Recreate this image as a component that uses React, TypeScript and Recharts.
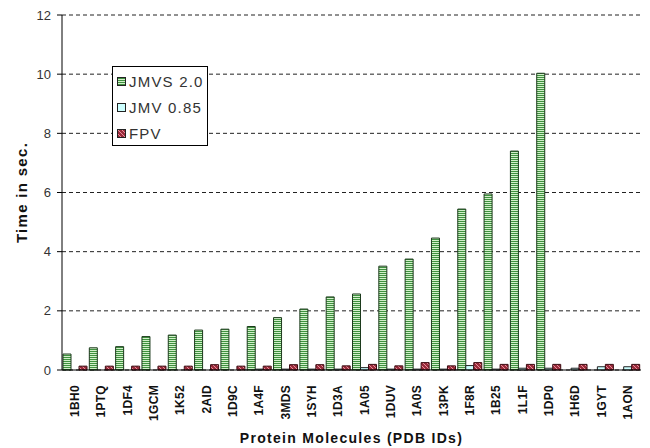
import React from "react";
import { Bar, BarChart, CartesianGrid, XAxis, YAxis } from "recharts";

const proteins = [
  "1BH0", "1PTQ", "1DF4", "1GCM", "1K52", "2AID", "1D9C", "1A4F", "3MDS", "1SYH", "1D3A",
  "1A05", "1DUV", "1A0S", "13PK", "1F8R", "1B25", "1L1F", "1DP0", "1H6D", "1GYT", "1AON",
];
const jmvs = [
  0.54, 0.75, 0.79, 1.13, 1.18, 1.35, 1.38, 1.47, 1.77, 2.06, 2.47,
  2.57, 3.51, 3.75, 4.46, 5.44, 5.95, 7.4, 10.03, 0, 0, 0,
];
const jmv = [
  0, 0, 0, 0, 0, 0, 0, 0.03, 0.03, 0.03, 0.03,
  0.08, 0.03, 0.03, 0.03, 0.15, 0.03, 0.06, 0.06, 0.06, 0.11, 0.11,
];
const fpv = [
  0.13, 0.13, 0.13, 0.13, 0.13, 0.18, 0.13, 0.13, 0.18, 0.18, 0.14,
  0.19, 0.14, 0.25, 0.14, 0.25, 0.19, 0.19, 0.19, 0.19, 0.19, 0.19,
];
const yTicks = [0, 2, 4, 6, 8, 10, 12];

const data = proteins.map((p, i) => ({ name: p, jmvs: jmvs[i], jmv: jmv[i], fpv: fpv[i] }));

const font = "Arial, 'Liberation Sans', sans-serif";

function ProteinTick({ x, y, payload }: any) {
  return (
    <text
      x={x + 4}
      y={y + 7}
      transform={`rotate(-90 ${x + 4} ${y + 7})`}
      textAnchor="end"
      fontSize={12}
      fontWeight="bold"
      fontFamily={font}
      letterSpacing={0.3}
      fill="#111"
    >
      {payload.value}
    </text>
  );
}

function LegendItem({ fill, label }: { fill: string; label: string }) {
  return (
    <div style={{ display: "flex", alignItems: "center", height: 26 }}>
      <svg width={9} height={9} style={{ marginRight: 3 }}>
        <rect x={0.5} y={0.5} width={8} height={8} fill={fill} stroke="#222" />
      </svg>
      <span>{label}</span>
    </div>
  );
}

export default function App() {
  return (
    <div style={{ position: "absolute", left: 0, top: 0, width: 650, height: 448, background: "#fff" }}>
      <BarChart
        width={650}
        height={448}
        data={data}
        margin={{ top: 15, right: 9, left: 0, bottom: 0 }}
        barGap={0}
        barSize={8}
      >
        <defs>
          <pattern id="gStripe" width="4" height="2" patternUnits="userSpaceOnUse">
            <rect width="4" height="2" fill="#d2f0ca" />
            <rect y="1" width="4" height="1" fill="#3f923f" />
          </pattern>
          <pattern id="rDiag" width="4" height="4" patternUnits="userSpaceOnUse">
            <rect width="4" height="4" fill="#9a2a3a" />
            <path d="M0,0 L4,4" stroke="#e8909c" strokeWidth="1" />
          </pattern>
        </defs>
        <CartesianGrid vertical={false} stroke="#222" strokeDasharray="4 3" />
        <XAxis
          dataKey="name"
          height={78}
          interval={0}
          tickLine={false}
          axisLine={{ stroke: "#000" }}
          tick={<ProteinTick />}
          label={{
            value: "Protein Molecules (PDB IDs)",
            position: "insideBottom",
            offset: 5,
            fontSize: 14,
            fontWeight: "bold",
            fontFamily: font,
            letterSpacing: 1.3,
            fill: "#111",
          }}
        />
        <XAxis xAxisId="top" dataKey="name" orientation="top" height={0} tick={false} tickLine={false} axisLine={{ stroke: "#000" }} />
        <YAxis
          width={62}
          domain={[0, 12]}
          ticks={yTicks}
          tickSize={5}
          tickMargin={6}
          tickLine={{ stroke: "#000" }}
          axisLine={{ stroke: "#000" }}
          tick={{ fontSize: 13, fontFamily: font, fill: "#333" }}
          label={({ viewBox }: any) => {
            const cx = 21;
            const cy = viewBox.y + viewBox.height / 2;
            return (
              <text
                x={cx}
                y={cy}
                transform={`rotate(-90 ${cx} ${cy})`}
                textAnchor="middle"
                dominantBaseline="central"
                fontSize={15}
                fontWeight="bold"
                fontFamily={font}
                letterSpacing={1.3}
                fill="#111"
              >
                Time in sec.
              </text>
            );
          }}
        />
        <YAxis yAxisId="r" orientation="right" width={0} domain={[0, 12]} tick={false} tickLine={false} axisLine={{ stroke: "#000" }} />
        <Bar dataKey="jmvs" name="JMVS 2.0" fill="url(#gStripe)" stroke="#1c3a1c" strokeWidth={1} isAnimationActive={false} />
        <Bar dataKey="jmv" name="JMV 0.85" fill="#ccffff" stroke="#222" strokeWidth={1} isAnimationActive={false} />
        <Bar dataKey="fpv" name="FPV" fill="url(#rDiag)" stroke="#3a0a10" strokeWidth={1} isAnimationActive={false} />
      </BarChart>
      <div
        style={{
          position: "absolute",
          left: 112,
          top: 66,
          width: 96,
          height: 80,
          border: "1px solid #000",
          background: "#fff",
          fontFamily: font,
          fontSize: 15,
          letterSpacing: 1.2,
          color: "#333",
          paddingLeft: 4,
          boxSizing: "border-box",
          paddingTop: 1,
        }}
      >
        <LegendItem fill="url(#gStripe)" label="JMVS 2.0" />
        <LegendItem fill="#ccffff" label="JMV 0.85" />
        <LegendItem fill="url(#rDiag)" label="FPV" />
      </div>
    </div>
  );
}
